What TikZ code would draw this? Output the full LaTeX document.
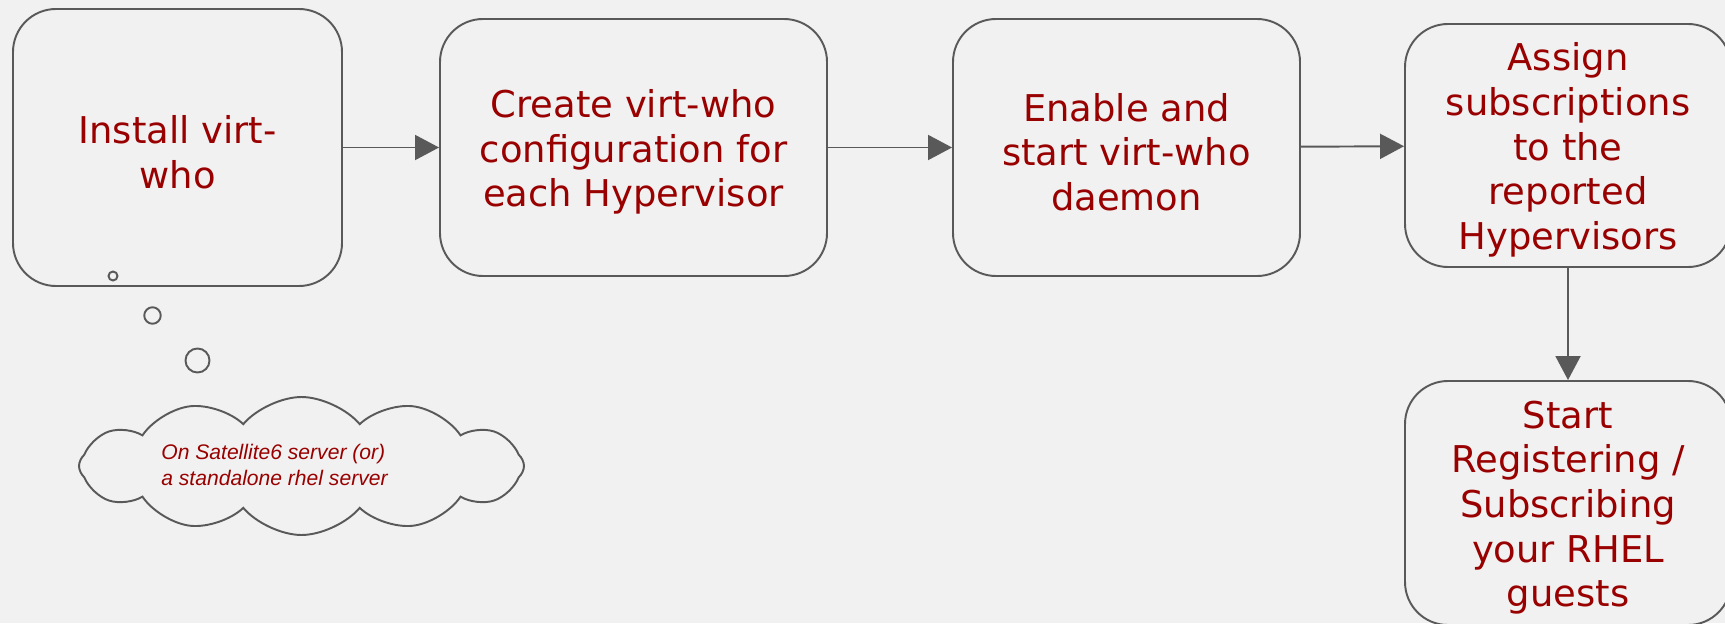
\documentclass[tikz,border=0pt]{standalone}
\usepackage{fontspec}
\setmainfont{DejaVu Sans}
\newfontfamily\notefont{Liberation Sans}
\usetikzlibrary{arrows.meta}
\usetikzlibrary{shapes.symbols}
\usetikzlibrary{positioning}

\definecolor{bggray}{HTML}{F1F1F1}
\definecolor{edgegray}{HTML}{595959}
\definecolor{textred}{HTML}{990000}

\newcommand{\capstrut}{\rule{0pt}{21pt}}

\tikzset{
  stepbox/.style={draw=edgegray, fill=bggray, line width=1.1pt, rounded corners=0.86cm,
    align=center, text=textred, inner sep=0pt, font=\fontsize{21}{25.4}\selectfont},
  flow/.style={draw=edgegray, line width=1.1pt, -{Triangle[length=0.48cm,width=0.5cm]}},
  thought/.style={draw=edgegray, line width=1.1pt, cloud, cloud puffs=12, cloud puff arc=100,
    cloud ignores aspect, minimum width=8.9cm, minimum height=2.76cm, inner sep=0pt},
  note/.style={align=left, text=textred, inner sep=0pt, font=\notefont\itshape\fontsize{12}{14.8}\selectfont}
}

\begin{document}
\begin{tikzpicture}
    \fill[bggray] (0,0) rectangle (34.5,12.46);
    \useasboundingbox (0,0) rectangle (34.5,12.46);
    \clip (0,0) rectangle (34.5,12.46);

    % steps
    \node[stepbox, minimum width=6.58cm, minimum height=5.54cm] (install) at (3.55,9.51) {\capstrut Install virt-\\who};
    \node[stepbox, minimum width=7.74cm, minimum height=5.14cm] (config) at (12.67,9.51) {\capstrut Create virt-who\\configuration for\\each Hypervisor};
    \node[stepbox, minimum width=6.94cm, minimum height=5.14cm] (enable) at (22.53,9.51) {\capstrut Enable and\\start virt-who\\daemon};
    \node[stepbox, minimum width=6.52cm, minimum height=4.86cm] (assign) at (31.36,9.55) {\capstrut Assign\\subscriptions\\to the\\reported\\Hypervisors};
    \node[stepbox, minimum width=6.52cm, minimum height=4.88cm] (register) at (31.36,2.40) {\capstrut Start\\Registering /\\Subscribing\\your RHEL\\guests};

    \draw[flow] (install) -- (config);
    \draw[flow] (config) -- (enable);
    \draw[flow] (enable) -- (assign);
    \draw[flow] (assign) -- (register);

    % thought bubble
    \draw[draw=edgegray, line width=1.1pt] (2.26,6.94) circle (0.09);
    \draw[draw=edgegray, line width=1.1pt] (3.05,6.15) circle (0.165);
    \draw[draw=edgegray, line width=1.1pt] (3.95,5.25) circle (0.24);
    \node[thought] (thought) at (6.03,3.14) {};
    \node[note] (note) at (5.49,3.16) {On Satellite6 server (or)\\a standalone rhel server};
\end{tikzpicture}
\end{document}
